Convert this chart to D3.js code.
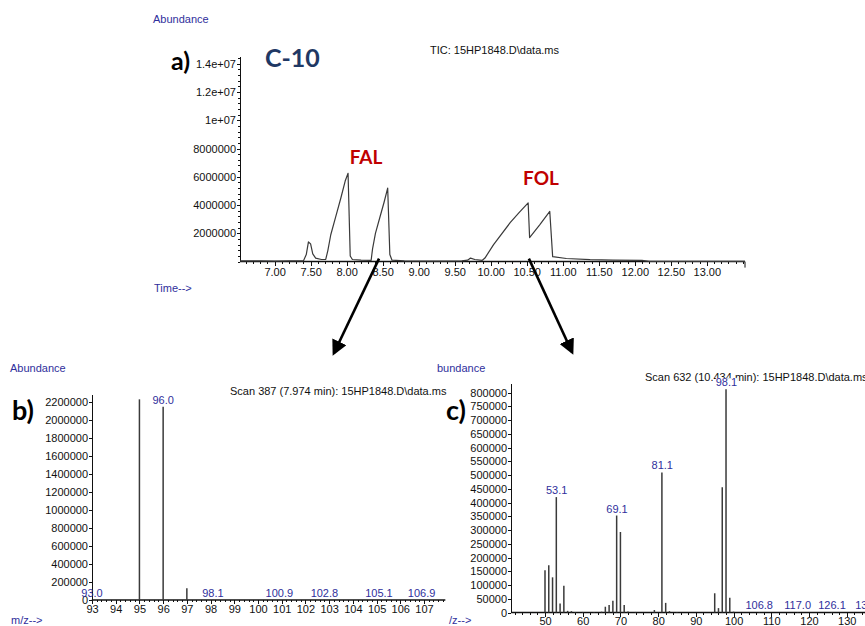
<!DOCTYPE html>
<html><head><meta charset="utf-8">
<script src="https://cdn.jsdelivr.net/npm/d3@7"></script>
<style>
html,body{margin:0;padding:0;background:#fff;}
svg{display:block;font-family:"Liberation Sans",Arial,sans-serif;}
.ax path,.ax line{stroke:#111;stroke-width:1;shape-rendering:crispEdges;}
.ax text{fill:#111;font-size:11px;}
</style></head>
<body>
<svg id="c" width="865" height="626"></svg>
<script>
// ---------- DATA ----------
// a) total ion chromatogram
const ticTime = [6.52,6.8,7.0,7.2,7.40,7.44,7.47,7.50,7.53,7.57,7.65,7.71,7.74,7.78,7.85,7.92,7.98,8.02,8.05,8.08,8.20,8.34,8.36,8.40,8.46,8.52,8.57,8.60,8.63,8.8,9.2,9.6,9.68,9.72,9.78,9.88,9.92,10.04,10.27,10.40,10.52,10.54,10.68,10.82,10.86,11.05,11.38,11.7,12.1,12.2,13.53];
const ticAbund = [50000,50000,40000,50000,50000,500000,1400000,1250000,550000,250000,150000,150000,800000,1900000,3200000,4500000,5700000,6250000,400000,150000,100000,80000,900000,2000000,3100000,4200000,5200000,500000,100000,50000,40000,50000,100000,250000,150000,80000,250000,1200000,2750000,3500000,4150000,1700000,2600000,3550000,350000,220000,140000,100000,80000,20000,20000];
const timeTicks = [7.0,7.5,8.0,8.5,9.0,9.5,10.0,10.5,11.0,11.5,12.0,12.5,13.0];
const ticYTicks = [2000000,4000000,6000000,8000000,10000000,12000000,14000000];
const ticYLabels = ["2000000","4000000","6000000","8000000","1e+07","1.2e+07","1.4e+07"];

// b) spectrum scan 387
const bMz = [93.0,95,96,97,98.1,100.9,102.8,105.1,106.9];
const bAbund = [3000,2233000,2150000,130000,3000,2000,2000,2000,2000];
const bLabelMz = ["93.0","96.0","98.1","100.9","102.8","105.1","106.9"];
const bXTicks = [93,94,95,96,97,98,99,100,101,102,103,104,105,106,107];
const bYTicks = [0,200000,400000,600000,800000,1000000,1200000,1400000,1600000,1800000,2000000,2200000];

// c) spectrum scan 632
const cMz = [50,51,52,53,54,55,56,57,58,60,63,65,66,67,68,69,70,71,72,74,79,81,82,83,85,95,96,97,98,99,100,106.8,117.0,126.1,135.9];
const cAbund = [154000,172000,128000,420000,33000,97000,6000,5000,2000,2000,2000,3000,21000,27000,43000,353000,293000,27000,4000,2000,9000,510000,35000,5000,2000,70000,16000,456000,813000,54000,3000,1500,1500,1500,1500];
const cLabelMz = ["53.1","69.1","81.1","98.1","106.8","117.0","126.1","135.9"];
const cXTicks = [50,60,70,80,90,100,110,120,130];
const cYTicks = [0,50000,100000,150000,200000,250000,300000,350000,400000,450000,500000,550000,600000,650000,700000,750000,800000];

// ---------- DRAW ----------
const svg = d3.select("#c");
const blue = "#2f2f9c";
const lineCol = "#3a3a3a";

function txt(x,y,s,opt={}){
  const t = svg.append("text").attr("x",x).attr("y",y).text(s)
    .attr("font-size",opt.size||11).attr("fill",opt.fill||"#111");
  if(opt.weight) t.attr("font-weight",opt.weight);
  if(opt.anchor) t.attr("text-anchor",opt.anchor);
  if(opt.family) t.attr("font-family",opt.family);
  return t;
}

// ===== a) =====
const xA = d3.scaleLinear().domain([6.52,13.53]).range([240,745]);
const yA = d3.scaleLinear().domain([0,14000000]).range([261.6,63.7]);
const yTopA = 14470000;

// minor y ticks
svg.append("g").attr("class","ax").attr("transform","translate(240,0)")
  .call(d3.axisLeft(yA).tickValues(d3.range(0,yTopA,400000)).tickSize(2).tickFormat(""))
  .call(g=>g.select(".domain").remove());
svg.append("g").attr("class","ax").attr("transform","translate(240,0)")
  .call(d3.axisLeft(yA).tickValues(ticYTicks).tickSize(3).tickPadding(1)
    .tickFormat((d,i)=>ticYLabels[i]))
  .call(g=>g.select(".domain").remove());
svg.append("line").attr("x1",240).attr("x2",240).attr("y1",yA(yTopA)).attr("y2",yA(0))
  .attr("stroke","#111").attr("shape-rendering","crispEdges");
// x axis
svg.append("g").attr("class","ax").attr("transform",`translate(0,${yA(0)})`)
  .call(d3.axisBottom(xA).tickValues(d3.range(6.6,13.55,0.1)).tickSize(2).tickFormat(""))
  .call(g=>g.select(".domain").remove());
svg.append("g").attr("class","ax").attr("transform",`translate(0,${yA(0)})`)
  .call(d3.axisBottom(xA).tickValues(timeTicks).tickSize(4).tickPadding(3).tickFormat(d3.format(".2f")))
  .call(g=>g.select(".domain").remove());
svg.append("line").attr("x1",240).attr("x2",745).attr("y1",yA(0)).attr("y2",yA(0))
  .attr("stroke","#111").attr("stroke-width",1.5);
svg.append("line").attr("x1",745).attr("x2",745).attr("y1",yA(0)).attr("y2",yA(0)+6).attr("stroke","#111");

svg.append("path").datum(ticTime.map((t,i)=>[t,ticAbund[i]]))
  .attr("fill","none").attr("stroke",lineCol).attr("stroke-width",1.2).attr("stroke-linejoin","round")
  .attr("d",d3.line().x(d=>xA(d[0])).y(d=>yA(d[1])));

txt(153,23,"Abundance",{fill:blue});
txt(154,292,"Time-->",{fill:blue});
txt(430,54,"TIC: 15HP1848.D\\data.ms");
txt(171,70,"a)",{size:25,weight:"bold",family:"Lato, 'Open Sans', sans-serif",fill:"#000"});
txt(265,67,"C-10",{size:25,weight:"bold",family:"Lato, 'Open Sans', sans-serif",fill:"#1f3864"});
txt(366,164,"FAL",{size:19,weight:"bold",family:"Lato, 'Open Sans', sans-serif",fill:"#c00000",anchor:"middle"});
txt(541,185,"FOL",{size:19,weight:"bold",family:"Lato, 'Open Sans', sans-serif",fill:"#c00000",anchor:"middle"});

// ===== b) =====
const xB = d3.scaleLinear().domain([93,107]).range([92,424]);
const yB = d3.scaleLinear().domain([0,2200000]).range([600,402.3]);
svg.append("g").attr("class","ax").attr("transform","translate(92,0)")
  .call(d3.axisLeft(yB).tickValues(bYTicks).tickSize(3).tickPadding(1).tickFormat(d3.format("d")))
  .call(g=>g.select(".domain").remove());
svg.append("line").attr("x1",92).attr("x2",92).attr("y1",yB(2280000)).attr("y2",yB(0))
  .attr("stroke","#111").attr("shape-rendering","crispEdges");
svg.append("g").attr("class","ax").attr("transform",`translate(0,${yB(0)})`)
  .call(d3.axisBottom(xB).tickValues(d3.range(93,107.9,0.2)).tickSize(2).tickFormat(""))
  .call(g=>g.select(".domain").remove());
svg.append("g").attr("class","ax").attr("transform",`translate(0,${yB(0)})`)
  .call(d3.axisBottom(xB).tickValues(bXTicks).tickSize(4).tickPadding(1).tickFormat(d3.format("d")))
  .call(g=>g.select(".domain").remove());
svg.append("line").attr("x1",92).attr("x2",xB(107.9)).attr("y1",yB(0)).attr("y2",yB(0))
  .attr("stroke","#111").attr("stroke-width",1.5);

svg.selectAll(".barB").data(bMz.map((m,i)=>[m,bAbund[i]])).enter().append("line")
  .attr("x1",d=>xB(d[0])).attr("x2",d=>xB(d[0])).attr("y1",yB(0)).attr("y2",d=>yB(d[1]))
  .attr("stroke",lineCol).attr("stroke-width",1.5);
bLabelMz.forEach(s=>{
  const m=+s; let v=0; bMz.forEach((mm,i)=>{ if(Math.abs(mm-m)<0.5) v=bAbund[i]; });
  txt(xB(m),yB(v)-3,s,{fill:blue,anchor:"middle"});
});
txt(10,372,"Abundance",{fill:blue});
txt(11,624,"m/z-->",{fill:blue});
txt(230,395,"Scan 387 (7.974 min): 15HP1848.D\\data.ms");
txt(12,420,"b)",{size:27,weight:"bold",family:"Lato, 'Open Sans', sans-serif",fill:"#000"});

// ===== c) =====
const xC = d3.scaleLinear().domain([50,130]).range([545,846.7]);
const yC = d3.scaleLinear().domain([0,800000]).range([612.5,392.7]);
svg.append("g").attr("class","ax").attr("transform",`translate(${xC(41)},0)`)
  .call(d3.axisLeft(yC).tickValues(cYTicks).tickSize(3).tickPadding(1).tickFormat(d3.format("d")))
  .call(g=>g.select(".domain").remove());
svg.append("line").attr("x1",xC(41)).attr("x2",xC(41)).attr("y1",yC(830000)).attr("y2",yC(0))
  .attr("stroke","#111").attr("shape-rendering","crispEdges");
svg.append("g").attr("class","ax").attr("transform",`translate(0,${yC(0)})`)
  .call(d3.axisBottom(xC).tickValues(d3.range(42,140,2)).tickSize(2).tickFormat(""))
  .call(g=>g.select(".domain").remove());
svg.append("g").attr("class","ax").attr("transform",`translate(0,${yC(0)})`)
  .call(d3.axisBottom(xC).tickValues(cXTicks).tickSize(4).tickPadding(1).tickFormat(d3.format("d")))
  .call(g=>g.select(".domain").remove());
svg.append("line").attr("x1",xC(41)).attr("x2",xC(140)).attr("y1",yC(0)).attr("y2",yC(0))
  .attr("stroke","#111").attr("stroke-width",1.5);

svg.selectAll(".barC").data(cMz.map((m,i)=>[m,cAbund[i]])).enter().append("line")
  .attr("x1",d=>xC(d[0])).attr("x2",d=>xC(d[0])).attr("y1",yC(0)).attr("y2",d=>yC(d[1]))
  .attr("stroke",lineCol).attr("stroke-width",1.5);

txt(645,381,"Scan 632 (10.434 min): 15HP1848.D\\data.ms");
cLabelMz.forEach(s=>{
  const m=+s; let v=0; cMz.forEach((mm,i)=>{ if(Math.abs(mm-m)<0.5) v=cAbund[i]; });
  const t = txt(xC(m),yC(v)-3,s,{fill:blue,anchor:"middle"});
  if(s==="98.1"){
    const bb=t.node().getBBox();
    svg.insert("rect",()=>t.node()).attr("x",bb.x).attr("y",bb.y+2).attr("width",bb.width).attr("height",bb.height-2).attr("fill","#fff");
  }
});
txt(437,372,"bundance",{fill:blue});
txt(449,624,"/z-->",{fill:blue});
txt(446,420,"c)",{size:27,weight:"bold",family:"Lato, 'Open Sans', sans-serif",fill:"#000"});

// ===== arrows =====
const defs = svg.append("defs");
defs.append("marker").attr("id","ah").attr("viewBox","0 0 10 10").attr("refX",8).attr("refY",5)
  .attr("markerWidth",6).attr("markerHeight",6).attr("orient","auto")
  .append("path").attr("d","M0,0 L10,5 L0,10 Z").attr("fill","#000");
const arrows = [
  [[xA(8.45), yA(0)-3],[334,353]],
  [[xA(10.53), yA(0)-3],[572,352]]
];
arrows.forEach(a=>{
  svg.append("line").attr("x1",a[0][0]).attr("y1",a[0][1]).attr("x2",a[1][0]).attr("y2",a[1][1])
    .attr("stroke","#000").attr("stroke-width",2.6).attr("marker-end","url(#ah)");
});
</script>
</body></html>
